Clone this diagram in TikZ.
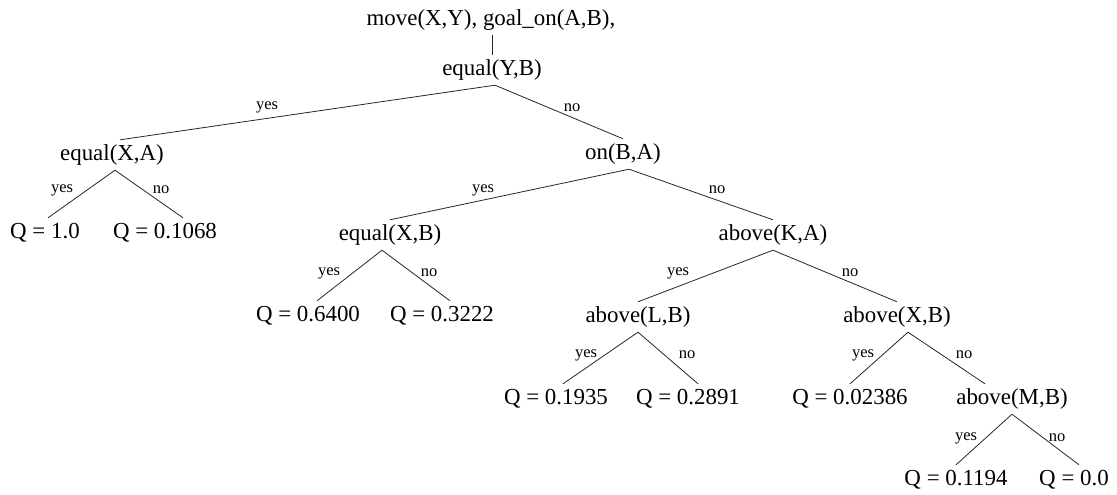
\documentclass[tikz,border=0pt]{standalone}
\usepackage{fontspec}
\setmainfont{Liberation Serif}
\usepackage{tikz}

\begin{document}
\begin{tikzpicture}[x=1pt,y=-1pt,
  cond/.style={inner sep=0pt,minimum height=30pt,text height=15.5pt,text depth=5pt,font=\fontsize{22.9}{27}\selectfont},
  leaf/.style={cond},
  lbl/.style={inner sep=0pt,font=\fontsize{16.5}{20}\selectfont},
  branch/.style={line width=0.8pt,draw=black!85}
]
\useasboundingbox (0,0) rectangle (1117,495);

% tests
\node[cond] (root) at (491,20) {move(X,Y), goal\_on(A,B),};
\node[cond] (eqYB) at (492,70) {equal(Y,B)};
\node[cond] (eqXA) at (112,155) {equal(X,A)};
\node[cond] (onBA) at (623,154) {on(B,A)};
\node[cond] (eqXB) at (390,235) {equal(X,B)};
\node[cond] (abKA) at (773,235) {above(K,A)};
\node[cond] (abLB) at (638,317) {above(L,B)};
\node[cond] (abXB) at (897,317) {above(X,B)};
\node[cond] (abMB) at (1012,399) {above(M,B)};

% leaves
\node[leaf] (q10) at (45,233) {Q = 1.0};
\node[leaf] (q1068) at (165,233) {Q = 0.1068};
\node[leaf] (q6400) at (308,316) {Q = 0.6400};
\node[leaf] (q3222) at (442,316) {Q = 0.3222};
\node[leaf] (q1935) at (556,399) {Q = 0.1935};
\node[leaf] (q2891) at (688,399) {Q = 0.2891};
\node[leaf] (q02386) at (850,399) {Q = 0.02386};
\node[leaf] (q1194) at (956,480) {Q = 0.1194};
\node[leaf] (q00) at (1074,480) {Q = 0.0};

% branches
\draw[branch] (eqYB.north |- root.south) -- (eqYB.north);
\draw[branch] ([xshift=3pt]eqYB.south) -- ([xshift=8pt]eqXA.north);
\draw[branch] ([xshift=3pt]eqYB.south) -- (onBA.north);
\draw[branch] ([xshift=3pt]eqXA.south) -- ([xshift=3pt]q10.north);
\draw[branch] ([xshift=3pt]eqXA.south) -- ([xshift=18pt]q1068.north);
\draw[branch] ([xshift=6pt]onBA.south) -- (eqXB.north);
\draw[branch] ([xshift=6pt]onBA.south) -- (abKA.north);
\draw[branch] ([xshift=-8pt]eqXB.south) -- ([xshift=9pt]q6400.north);
\draw[branch] ([xshift=-8pt]eqXB.south) -- ([xshift=8pt]q3222.north);
\draw[branch] (abKA.south) -- (abLB.north);
\draw[branch] (abKA.south) -- (abXB.north);
\draw[branch] (abLB.south) -- ([xshift=7pt]q1935.north);
\draw[branch] (abLB.south) -- ([xshift=10pt]q2891.north);
\draw[branch] ([xshift=11pt]abXB.south) -- (q02386.north);
\draw[branch] ([xshift=11pt]abXB.south) -- ([xshift=-27pt]abMB.north);
\draw[branch] (abMB.south) -- (q1194.north);
\draw[branch] (abMB.south) -- ([xshift=5pt]q00.north);

% yes / no
\node[lbl] (y1) at (267,107) {yes};
\node[lbl] (n1) at (572,108) {no};
\node[lbl] (y2) at (62,190) {yes};
\node[lbl] (n2) at (161,190) {no};
\node[lbl] (y3) at (483,190) {yes};
\node[lbl] (n3) at (717,190) {no};
\node[lbl] (y4) at (329,273) {yes};
\node[lbl] (n4) at (429,273) {no};
\node[lbl] (y5) at (678,273) {yes};
\node[lbl] (n5) at (850,273) {no};
\node[lbl] (y6) at (586,355) {yes};
\node[lbl] (n6) at (687,355) {no};
\node[lbl] (y7) at (863,355) {yes};
\node[lbl] (n7) at (964,355) {no};
\node[lbl] (y8) at (966,438) {yes};
\node[lbl] (n8) at (1057,438) {no};
\end{tikzpicture}
\end{document}
